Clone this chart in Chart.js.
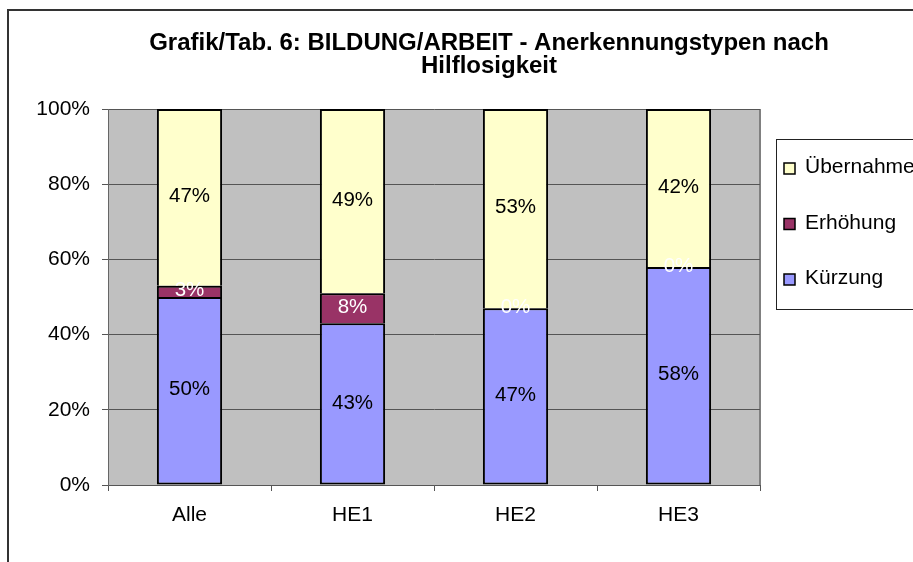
<!DOCTYPE html>
<html>
<head>
<meta charset="utf-8">
<script src="https://cdn.jsdelivr.net/npm/chart.js@4"></script>
<style>
  html, body { margin: 0; padding: 0; background: #fff; overflow: hidden; }
  #frame { position: absolute; left: 7px; top: 9px; width: 960px; height: 600px; border: 2px solid #333; background: #fff; }
  canvas { display: block; }
</style>
</head>
<body>
<div id="frame"><canvas id="chart" width="960" height="600"></canvas></div>
<script>
const categories = ["Alle", "HE1", "HE2", "HE3"];
const kuerzung = [50, 43, 47, 58];
const erhoehung = [3, 8, 0, 0];
const uebernahme = [47, 49, 53, 42];
const yTicks = [0, 20, 40, 60, 80, 100];

const FONT = "'Liberation Sans', Arial, sans-serif";
Chart.defaults.font.family = FONT;
Chart.defaults.color = "#000";

// grey plot area like the old Excel charts
const plotBackground = {
  id: "plotBackground",
  beforeDraw(chart) {
    const { ctx, chartArea: a } = chart;
    ctx.save();
    ctx.fillStyle = "#c0c0c0";
    ctx.fillRect(a.left, a.top, a.right - a.left, a.bottom - a.top);
    ctx.strokeStyle = "#808080";
    ctx.lineWidth = 2;
    ctx.beginPath();
    ctx.moveTo(a.right, a.top);
    ctx.lineTo(a.right, a.bottom);
    ctx.stroke();
    ctx.restore();
  }
};

// percent labels in the middle of every segment
const valueLabels = {
  id: "valueLabels",
  afterDatasetsDraw(chart) {
    const ctx = chart.ctx;
    ctx.save();
    ctx.font = "20.5px " + FONT;
    ctx.textAlign = "center";
    ctx.textBaseline = "middle";
    chart.data.datasets.forEach((ds, i) => {
      chart.getDatasetMeta(i).data.forEach((bar, j) => {
        ctx.fillStyle = ds.labelColor;
        ctx.fillText(Math.round(ds.data[j]) + "%", bar.x, (bar.y + bar.base) / 2 - 1);
      });
    });
    ctx.restore();
  }
};

// boxed legend on the right, top item = top of the stack
const boxLegend = {
  id: "boxLegend",
  afterDraw(chart) {
    const ctx = chart.ctx;
    const x = 767, y = 128, h = 170;
    ctx.save();
    ctx.strokeStyle = "#222";
    ctx.lineWidth = 1;
    ctx.strokeRect(x + 0.5, y + 0.5, 300, h);
    ctx.font = "21px " + FONT;
    ctx.textBaseline = "alphabetic";
    ctx.textAlign = "left";
    const items = chart.data.datasets.slice().reverse();
    items.forEach((ds, i) => {
      const base = y + 34 + i * 55.5;
      ctx.fillStyle = ds.backgroundColor;
      ctx.fillRect(x + 8, base - 10, 11, 11);
      ctx.strokeStyle = "#000";
      ctx.lineWidth = 1.5;
      ctx.strokeRect(x + 8, base - 10, 11, 11);
      ctx.fillStyle = "#000";
      ctx.fillText(ds.label, x + 29, base);
    });
    ctx.restore();
  }
};

const upperBorder = { top: 2, left: 2, right: 2, bottom: 0 };

new Chart(document.getElementById("chart"), {
  type: "bar",
  data: {
    labels: categories,
    datasets: [
      {
        label: "Kürzung",
        data: kuerzung,
        backgroundColor: "#9999ff",
        borderColor: "#000",
        borderWidth: 2,
        borderSkipped: false,
        labelColor: "#000"
      },
      {
        label: "Erhöhung",
        data: erhoehung,
        backgroundColor: "#993366",
        borderColor: "#000",
        borderWidth: upperBorder,
        borderSkipped: false,
        labelColor: "#fff"
      },
      {
        label: "Übernahme",
        data: uebernahme,
        backgroundColor: "#ffffcc",
        borderColor: "#000",
        borderWidth: upperBorder,
        borderSkipped: false,
        labelColor: "#000"
      }
    ]
  },
  options: {
    responsive: false,
    animation: false,
    events: [],
    layout: { padding: 0 },
    datasets: {
      bar: { categoryPercentage: 1, barPercentage: 0.4 }
    },
    plugins: {
      legend: { display: false },
      tooltip: { enabled: false },
      title: {
        display: true,
        text: ["Grafik/Tab. 6: BILDUNG/ARBEIT - Anerkennungstypen nach", "Hilflosigkeit"],
        color: "#000",
        font: { size: 24, weight: "bold", lineHeight: "23px" },
        padding: { top: 21, bottom: 31 }
      }
    },
    scales: {
      x: {
        stacked: true,
        grid: { offset: true, drawOnChartArea: false, drawTicks: true, tickLength: 6, color: "#555", lineWidth: 1 },
        border: { color: "#555", width: 1 },
        ticks: { font: { size: 21 }, padding: 12, maxRotation: 0 },
        afterFit(scale) { scale.height = 126; }
      },
      y: {
        stacked: true,
        min: yTicks[0],
        max: yTicks[yTicks.length - 1],
        grid: { color: "#555", lineWidth: 1, tickLength: 6 },
        border: { color: "#666", width: 1 },
        ticks: {
          stepSize: yTicks[1] - yTicks[0],
          font: { size: 21 },
          padding: 12,
          callback: v => v + "%"
        },
        afterFit(scale) { scale.width = 99; }
      },
      // empty axis that only reserves the room where the legend box sits
      legendSpace: {
        axis: "y",
        position: "right",
        display: true,
        grid: { display: false, drawTicks: false },
        border: { display: false },
        ticks: { display: false },
        afterFit(scale) { scale.width = 209; }
      }
    }
  },
  plugins: [plotBackground, valueLabels, boxLegend]
});
</script>
</body>
</html>
